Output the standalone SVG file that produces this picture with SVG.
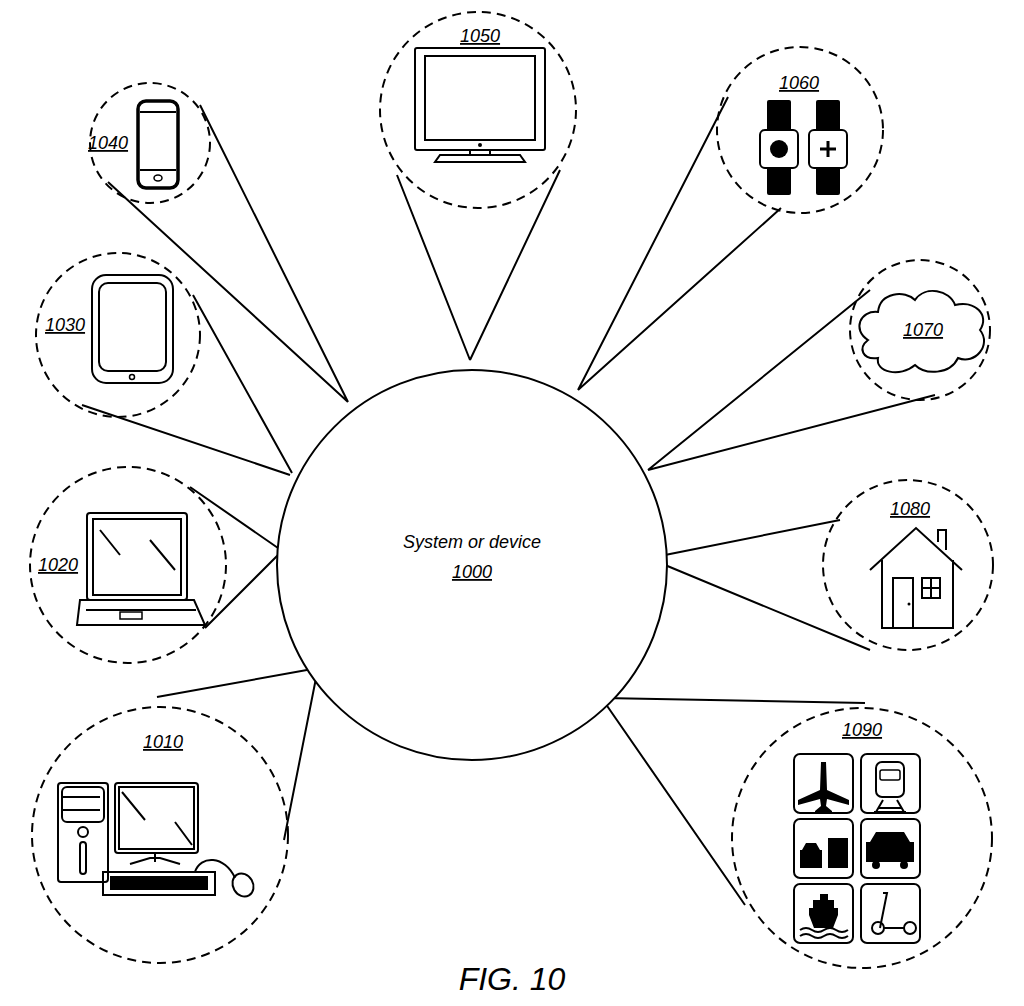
<svg xmlns="http://www.w3.org/2000/svg" width="1024" height="1006" viewBox="0 0 1024 1006">
<style>
.d{fill:none;stroke:#000;stroke-width:2;stroke-dasharray:9 6}
.l{stroke:#000;stroke-width:2;fill:none}
.o{fill:none;stroke:#000;stroke-width:2}
.t{font-family:"Liberation Sans",Arial,sans-serif;font-style:italic;font-size:18px;text-decoration:underline}
.b{fill:#000}
.w{fill:#fff;stroke:#000;stroke-width:2}
</style>
<rect width="1024" height="1006" fill="#fff"/>
<g id="connectors">
<path class="l" d="M200,105L348,402M108,182L348,402M193,295L292,473M82,405L290,475M190,487L278,548M205,628L278,555M157,697L318,668M284,840L318,668M397,175L470,360M560,170L470,360M728,97L578,390M781,208L578,390M870,290L648,470M935,395L648,470M840,520L665,555M870,650L665,565M603,698L865,703M745,905L603,700"/>
</g>
<g id="n1000">
<circle cx="472" cy="565" r="195" class="w"/>
<text x="472" y="548" text-anchor="middle" font-family="Liberation Sans,Arial,sans-serif" font-style="italic" font-size="18">System or device</text>
<text x="472" y="578" text-anchor="middle" class="t">1000</text>
</g>
<g id="n1040">
<circle cx="150" cy="143" r="60" class="d"/>
<rect x="138" y="101" width="40" height="87" rx="8" class="o" style="stroke-width:3.5"/>
<path class="l" d="M140,112H176M140,170H176"/>
<ellipse cx="158" cy="178" rx="4" ry="3" class="o" style="stroke-width:1.5"/>
<text x="88" y="149" class="t">1040</text>
</g>
<g id="n1030">
<circle cx="118" cy="335" r="82" class="d"/>
<rect x="92" y="275" width="81" height="108" rx="14" class="o"/>
<rect x="99" y="283" width="67" height="88" rx="9" class="o"/>
<circle cx="132" cy="377" r="2.5" class="o" style="stroke-width:1.5"/>
<text x="45" y="331" class="t">1030</text>
</g>
<g id="n1020">
<circle cx="128" cy="565" r="98" class="d"/>
<rect x="87" y="513" width="100" height="87" rx="3" class="o"/>
<rect x="93" y="519" width="88" height="76" class="o"/>
<path class="l" d="M100,530L120,555M150,540L175,570M80,600H194L205,625H77Z M86,610H196"/>
<rect x="120" y="612" width="22" height="7" class="o" style="stroke-width:1.5"/>
<text x="38" y="571" class="t">1020</text>
</g>
<g id="n1010">
<circle cx="160" cy="835" r="128" class="d"/>
<rect x="58" y="783" width="50" height="99" rx="3" class="o"/>
<rect x="62" y="787" width="42" height="35" rx="5" class="o"/>
<path class="l" d="M62,797H100M62,810H100"/>
<circle cx="83" cy="832" r="5" class="o"/>
<rect x="80" y="842" width="6" height="32" rx="3" class="o"/>
<rect x="115" y="783" width="83" height="70" rx="3" class="o"/>
<rect x="119" y="787" width="75" height="62" class="o"/>
<path class="l" d="M122,792L145,820M175,822L192,845M155,853V862M130,864L150,858H160L180,864"/>
<rect x="103" y="872" width="112" height="23" class="o"/>
<rect x="110" y="876" width="98" height="14" class="b"/>
<path class="l" d="M195,872C200,855 225,855 235,878"/>
<ellipse cx="243" cy="885" rx="10" ry="12" class="o" transform="rotate(-30 243 885)"/>
<text x="143" y="748" class="t">1010</text>
</g>
<g id="n1050">
<circle cx="478" cy="110" r="98" class="d"/>
<rect x="415" y="48" width="130" height="102" rx="2" class="o"/>
<rect x="425" y="56" width="110" height="84" class="o"/>
<circle cx="480" cy="145" r="2" class="b"/>
<path class="l" d="M470,150V155H490V150M440,155H520L525,162H435Z"/>
<text x="460" y="42" class="t">1050</text>
</g>
<g id="n1060">
<circle cx="800" cy="130" r="83" class="d"/>
<rect x="767" y="100" width="24" height="95" rx="2" class="b"/>
<rect x="760" y="130" width="38" height="38" rx="5" class="w"/>
<circle cx="779" cy="149" r="9" class="b"/>
<rect x="816" y="100" width="24" height="95" rx="2" class="b"/>
<rect x="809" y="130" width="38" height="38" rx="5" class="w"/>
<path d="M828,141V157M820,149H836" stroke="#000" stroke-width="3"/>
<text x="779" y="89" class="t">1060</text>
</g>
<g id="n1070">
<circle cx="920" cy="330" r="70" class="d"/>
<path class="o" d="M868,340C852,330 860,310 878,312C880,292 905,290 915,300C925,285 950,290 955,305C975,300 990,315 980,330C992,345 975,365 958,358C950,375 925,375 915,365C900,378 875,372 878,358C862,360 858,348 868,340Z"/>
<text x="903" y="336" class="t">1070</text>
</g>
<g id="n1080">
<circle cx="908" cy="565" r="85" class="d"/>
<path class="o" d="M870,570L916,528L962,570M882,560V628H953V560M938,542V530H946V550"/>
<rect x="893" y="578" width="20" height="50" class="o"/>
<circle cx="909" cy="604" r="1.5" class="b"/>
<rect x="922" y="578" width="18" height="20" class="o"/>
<path class="l" d="M931,578V598M922,588H940"/>
<text x="890" y="515" class="t">1080</text>
</g>
<g id="n1090">
<circle cx="862" cy="838" r="130" class="d"/>
<rect x="794" y="754" width="59" height="59" rx="6" class="o"/>
<rect x="861" y="754" width="59" height="59" rx="6" class="o"/>
<rect x="794" y="819" width="59" height="59" rx="6" class="o"/>
<rect x="861" y="819" width="59" height="59" rx="6" class="o"/>
<rect x="794" y="884" width="59" height="59" rx="6" class="o"/>
<rect x="861" y="884" width="59" height="59" rx="6" class="o"/>
<path class="b" d="M821,762H826L827,790L849,800V805L827,799L826,806L832,811V813H815V811L821,806L820,799L798,805V800L820,790Z"/>
<rect x="876" y="762" width="28" height="35" rx="6" class="o"/>
<rect x="880" y="770" width="20" height="10" rx="2" class="o" style="stroke-width:1.5"/>
<path class="l" d="M878,808H902M874,812H906M883,800L876,812M897,800L904,812"/>
<path class="b" d="M800,850H822V868H800ZM806,843H816L820,850H802ZM828,838H848V868H828Z"/>
<path class="b" d="M870,842L876,832H904L910,842H914V862H866V842Z"/>
<circle cx="876" cy="865" r="4" class="b"/><circle cx="904" cy="865" r="4" class="b"/>
<path class="b" d="M820,894H828V900H834V908H838V915L833,928H814L809,915V908H813V900H820Z"/>
<path class="l" d="M800,930Q806,926 812,930T824,930T836,930T848,930M800,936Q806,932 812,936T824,936T836,936T848,936"/>
<path class="l" d="M883,893H887L880,928M883,928H905"/>
<circle cx="878" cy="928" r="6" class="o"/><circle cx="910" cy="928" r="6" class="o"/>
<text x="842" y="736" class="t">1090</text>
</g>
<text x="512" y="990" text-anchor="middle" font-family="Liberation Sans,Arial,sans-serif" font-style="italic" font-size="32">FIG. 10</text>
</svg>
